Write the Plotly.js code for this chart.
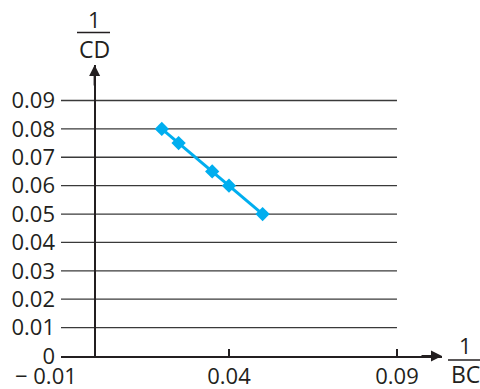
<!DOCTYPE html>
<html>
<head>
<meta charset="utf-8">
<script src="https://cdn.plot.ly/plotly-3.0.1.min.js"></script>
<style>html,body{margin:0;padding:0;background:#fff;}#chart{width:480px;height:389px;}</style>
</head>
<body>
<div id="chart"></div>
<script>
// Data
const xValues = [0.02, 0.025, 0.035, 0.04, 0.05];   // 1/BC
const yValues = [0.08, 0.075, 0.065, 0.06, 0.05];   // 1/CD
const xTickVals = [-0.01, 0.04, 0.09];
const xTickText = ['', '0.04', '0.09'];
const yTickVals = [0, 0.01, 0.02, 0.03, 0.04, 0.05, 0.06, 0.07, 0.08, 0.09];
const yTickText = ['0', '0.01', '0.02', '0.03', '0.04', '0.05', '0.06', '0.07', '0.08', '0.09'];
const gridYs = [0.01, 0.02, 0.03, 0.04, 0.05, 0.06, 0.07, 0.08, 0.09];
const gridXStart = -0.01, gridXEnd = 0.09;
const xMin = -0.01, xMax = 0.1034;
const yMin = 0, yMax = 0.1025;

const FONT = '"Open Sans", sans-serif';
const FS = 22;
const ink = '#231f20';

const shapes = gridYs.map(g => ({
  type: 'line', xref: 'x', yref: 'y', x0: gridXStart, x1: gridXEnd, y0: g, y1: g,
  line: {color: '#3a3a3a', width: 1.3}, layer: 'below'
}));
// fraction bars (axis titles)
shapes.push({type:'line', xref:'paper', yref:'paper', x0:(77-61)/381, x1:(110-61)/381,
  y0:(356-32.5)/291, y1:(356-32.5)/291, line:{color:ink, width:1.5}});
shapes.push({type:'line', xref:'paper', yref:'paper', x0:(448-61)/381, x1:(480-61)/381,
  y0:(356-360)/291, y1:(356-360)/291, line:{color:ink, width:1.5}});

const annotations = [
  // x=-0.01 tick label
  {x: -0.01, y: 0, xref: 'x', yref: 'y', text: '\u2212 0.01', showarrow: false,
   xanchor: 'right', yanchor: 'top', xshift: 18, yshift: -2, font: {family: FONT, size: FS, color: ink}},
  // arrowheads
  {x: xMax, y: 0, xref: 'x', yref: 'y', ax: -22, ay: 0, axref: 'pixel', ayref: 'pixel', text: '',
   showarrow: true, arrowhead: 2, arrowsize: 1.1, arrowwidth: 2, arrowcolor: ink, standoff: 0},
  {x: 0, y: yMax, xref: 'x', yref: 'y', ax: 0, ay: 22, text: '',
   showarrow: true, arrowhead: 2, arrowsize: 1.1, arrowwidth: 2, arrowcolor: ink, standoff: 0},
  // axis titles as fractions
  {xref:'paper', yref:'paper', x:(94-61)/381, y:(356-19)/291, text:'1', showarrow:false,
   xanchor:'center', yanchor:'middle', font:{family:FONT, size:FS, color:ink}},
  {xref:'paper', yref:'paper', x:(94-61)/381, y:(356-49)/291, text:'CD', showarrow:false,
   xanchor:'center', yanchor:'middle', font:{family:FONT, size:23, color:ink}},
  {xref:'paper', yref:'paper', x:(465-61)/381, y:(356-345)/291, text:'1', showarrow:false,
   xanchor:'center', yanchor:'middle', font:{family:FONT, size:FS, color:ink}},
  {xref:'paper', yref:'paper', x:(465-61)/381, y:(356-374)/291, text:'BC', showarrow:false,
   xanchor:'center', yanchor:'middle', font:{family:FONT, size:23, color:ink}}
];

const trace = {
  x: xValues, y: yValues, type: 'scatter', mode: 'lines+markers',
  line: {color: '#00aeef', width: 3},
  marker: {symbol: 'diamond', size: 11, color: '#00aeef'},
  cliponaxis: false, hoverinfo: 'skip'
};

const layout = {
  width: 480, height: 389,
  margin: {l: 61, r: 38, t: 65, b: 33},
  paper_bgcolor: '#fff', plot_bgcolor: '#fff',
  showlegend: false,
  font: {family: FONT, size: FS, color: ink},
  xaxis: {
    range: [xMin, xMax], showgrid: false,
    zeroline: true, zerolinecolor: ink, zerolinewidth: 2,
    showline: true, linecolor: ink, linewidth: 2,
    ticks: 'inside', ticklen: 7, tickwidth: 1.5, tickcolor: ink,
    tickmode: 'array', tickvals: xTickVals, ticktext: xTickText,
    tickfont: {family: FONT, size: FS, color: ink}, fixedrange: true
  },
  yaxis: {
    range: [yMin, yMax], showgrid: false, zeroline: false, showline: false,
    ticks: '', tickmode: 'array', tickvals: yTickVals, ticktext: yTickText,
    ticklabelstandoff: 5,
    tickfont: {family: FONT, size: FS, color: ink}, fixedrange: true
  },
  shapes: shapes,
  annotations: annotations
};

Plotly.newPlot('chart', [trace], layout, {displayModeBar: false, staticPlot: true});
</script>
</body>
</html>
